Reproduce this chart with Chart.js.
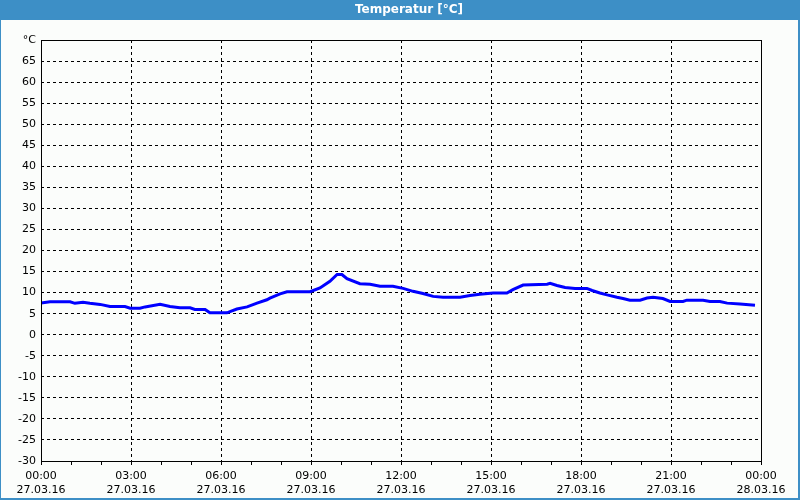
<!DOCTYPE html>
<html>
<head>
<meta charset="utf-8">
<script src="https://cdn.jsdelivr.net/npm/chart.js@4/dist/chart.umd.min.js"></script>
<style>
html,body{margin:0;padding:0;background:#fbfdfb;}
#wrap{width:800px;height:500px;position:relative;}
</style>
</head>
<body>
<div id="wrap"><canvas id="c" width="800" height="500"></canvas></div>
<script>
const chartTitle = 'Temperatur [°C]';
const yUnitLabel = '°C';
// time in hours since 27.03.16 00:00
const hours = [0,0.3,0.97,1.13,1.4,1.63,1.97,2.3,2.8,2.97,3.3,3.47,3.97,4.3,4.63,4.97,5.13,5.47,5.63,6.2,6.3,6.53,6.87,7.2,7.53,7.63,7.97,8.2,8.97,9.3,9.63,9.87,10.03,10.2,10.63,10.97,11.3,11.73,12.07,12.4,12.73,13.07,13.4,13.97,14.3,14.63,15.07,15.53,15.73,16.07,16.87,16.97,17.2,17.47,17.8,18.2,18.37,18.63,18.87,19.2,19.4,19.63,19.97,20.2,20.4,20.73,20.97,21.4,21.53,22.07,22.3,22.63,22.87,23.3,23.8];
const temps = [7.5,7.8,7.8,7.45,7.7,7.45,7.2,6.7,6.7,6.3,6.3,6.6,7.2,6.7,6.4,6.4,6.0,6.0,5.2,5.2,5.5,6.1,6.6,7.5,8.3,8.7,9.7,10.2,10.2,11.1,12.7,14.3,14.3,13.3,12.1,12.0,11.5,11.5,11.0,10.3,9.8,9.1,8.9,8.9,9.3,9.6,9.9,9.9,10.7,11.8,12.0,12.2,11.7,11.2,11.0,11.0,10.5,9.9,9.45,8.9,8.6,8.2,8.2,8.7,8.9,8.6,7.9,7.9,8.2,8.2,7.9,7.9,7.5,7.3,7.0];
const tickTimes = ['00:00','03:00','06:00','09:00','12:00','15:00','18:00','21:00','00:00'];
const tickDates = ['27.03.16','27.03.16','27.03.16','27.03.16','27.03.16','27.03.16','27.03.16','27.03.16','28.03.16'];

const FONT = 'Tahoma, "DejaVu Sans", sans-serif';

const framePlugin = {
  id: 'frame',
  beforeDraw(chart) {
    const ctx = chart.ctx;
    ctx.save();
    ctx.fillStyle = '#fbfdfb';
    ctx.fillRect(0, 0, 800, 500);
    ctx.fillStyle = '#3d8fc6';
    ctx.fillRect(0, 0, 800, 20);
    ctx.fillRect(0, 0, 1, 500);
    ctx.fillRect(798, 0, 2, 500);
    ctx.fillRect(0, 498, 800, 2);
    ctx.fillStyle = '#ffffff';
    ctx.font = 'bold 12px ' + FONT;
    ctx.textAlign = 'center';
    ctx.textBaseline = 'middle';
    ctx.fillText(chartTitle, 409, 10);
    ctx.restore();
  },
  afterDraw(chart) {
    const a = chart.chartArea;
    const ctx = chart.ctx;
    ctx.save();
    ctx.strokeStyle = '#000';
    ctx.lineWidth = 1;
    ctx.setLineDash([]);
    ctx.strokeRect(Math.round(a.left) + 0.5, Math.round(a.top) + 0.5, Math.round(a.right - a.left), Math.round(a.bottom - a.top));
    ctx.restore();
  }
};

new Chart(document.getElementById('c'), {
  type: 'line',
  data: {
    datasets: [{
      data: hours.map((h, i) => ({x: h, y: temps[i]})),
      borderColor: '#0000ff',
      borderWidth: 3,
      pointRadius: 0,
      tension: 0,
      fill: false
    }]
  },
  options: {
    responsive: false,
    animation: false,
    devicePixelRatio: 1,
    layout: {padding: {top: 40, left: 0, right: 39, bottom: 0}},
    plugins: {legend: {display: false}, tooltip: {enabled: false}, title: {display: false}},
    scales: {
      x: {
        type: 'linear',
        min: 0, max: 24,
        afterFit(s) { s.height = 39; },
        ticks: {
          stepSize: 1,
          autoSkip: false,
          maxRotation: 0,
          padding: 5,
          color: '#000',
          font: {family: FONT, size: 11},
          callback(v) {
            if (v % 3 !== 0) return '';
            const i = v / 3;
            return [tickTimes[i], tickDates[i]];
          }
        },
        grid: {
          color: (c) => (c.tick && c.tick.value % 3 === 0) ? '#000' : 'rgba(0,0,0,0)',
          tickColor: '#000',
          tickLength: 4,
          tickBorderDash: [],
          lineWidth: 1
        },
        border: {display: false, dash: [3, 3]}
      },
      y: {
        min: -30, max: 70,
        afterFit(s) { s.width = 41; },
        ticks: {
          stepSize: 5,
          padding: 5,
          color: '#000',
          font: {family: FONT, size: 11},
          callback(v) { return v === 70 ? yUnitLabel : String(v); }
        },
        grid: {color: '#000', drawTicks: false, lineWidth: 1},
        border: {display: false, dash: [3, 3]}
      }
    }
  },
  plugins: [framePlugin]
});
</script>
</body>
</html>
